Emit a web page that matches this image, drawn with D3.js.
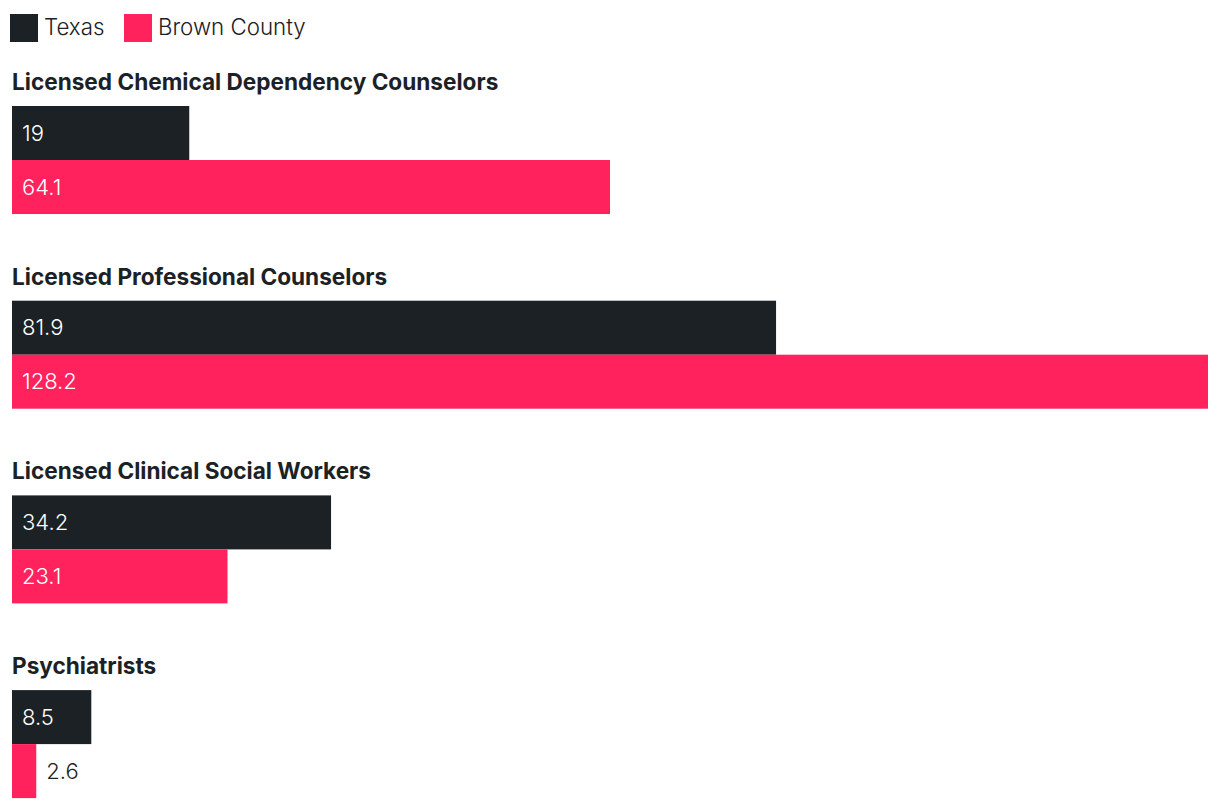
<!DOCTYPE html>
<html><head><meta charset="utf-8">
<script src="https://cdn.jsdelivr.net/npm/d3@7"></script>
<style>
html,body{margin:0;padding:0;background:#fff;}
svg{display:block;font-family:Inter, "Noto Sans", sans-serif;}
</style></head>
<body>
<svg id="chart" width="1220" height="808"></svg>
<script>
const categories = ["Licensed Chemical Dependency Counselors","Licensed Professional Counselors","Licensed Clinical Social Workers","Psychiatrists"];
const seriesNames = ["Texas","Brown County"];
const texasValues = [19, 81.9, 34.2, 8.5];
const brownValues = [64.1, 128.2, 23.1, 2.6];
const colors = ["#1b2125","#ff225d"];

const svg = d3.select("#chart");
const left = 12, right = 1208;
const barH = 54;
const groupTop0 = 106, groupStep = 194.7;

const x = d3.scaleLinear().domain([0, d3.max(brownValues.concat(texasValues))]).range([left, right]);
const gy = d3.scaleLinear().domain([0,1]).range([groupTop0, groupTop0+groupStep]);
const sy = d3.scaleBand().domain(seriesNames).range([0, barH*2]).padding(0);

// legend
const legend = svg.append("g");
const legX = [10, 124];
seriesNames.forEach((s,i)=>{
  legend.append("rect").attr("x",legX[i]).attr("y",14).attr("width",28).attr("height",28).attr("fill",colors[i]);
  legend.append("text").attr("x",legX[i]+34).attr("y",35).attr("font-size",22.3).attr("font-weight",300).attr("fill","#1b2125").text(s);
});

const data = categories.map((c,i)=>({cat:c, vals:[texasValues[i], brownValues[i]]}));
const groups = svg.selectAll("g.grp").data(data).join("g").attr("class","grp")
  .attr("transform",(d,i)=>`translate(0,${gy(i)})`);

groups.append("text").attr("x",12).attr("y",-16).attr("font-size",22.6).attr("font-weight",700)
  .attr("fill","#1b2125").text(d=>d.cat);

groups.each(function(d){
  const g = d3.select(this);
  d.vals.forEach((v,j)=>{
    const y0 = sy(seriesNames[j]);
    const w = x(v)-x(0);
    g.append("rect").attr("x",x(0)).attr("y",y0).attr("width",w).attr("height",sy.bandwidth()).attr("fill",colors[j]);
    const label = String(v);
    const inside = w > 60;
    g.append("text").attr("x", inside ? x(0)+10 : x(v)+10).attr("y", y0+sy.bandwidth()/2)
      .attr("dy","0.35em").attr("font-size",22).attr("font-weight",300)
      .attr("fill", inside ? "#fff" : "#1b2125").text(label);
  });
});
</script>
</body></html>
